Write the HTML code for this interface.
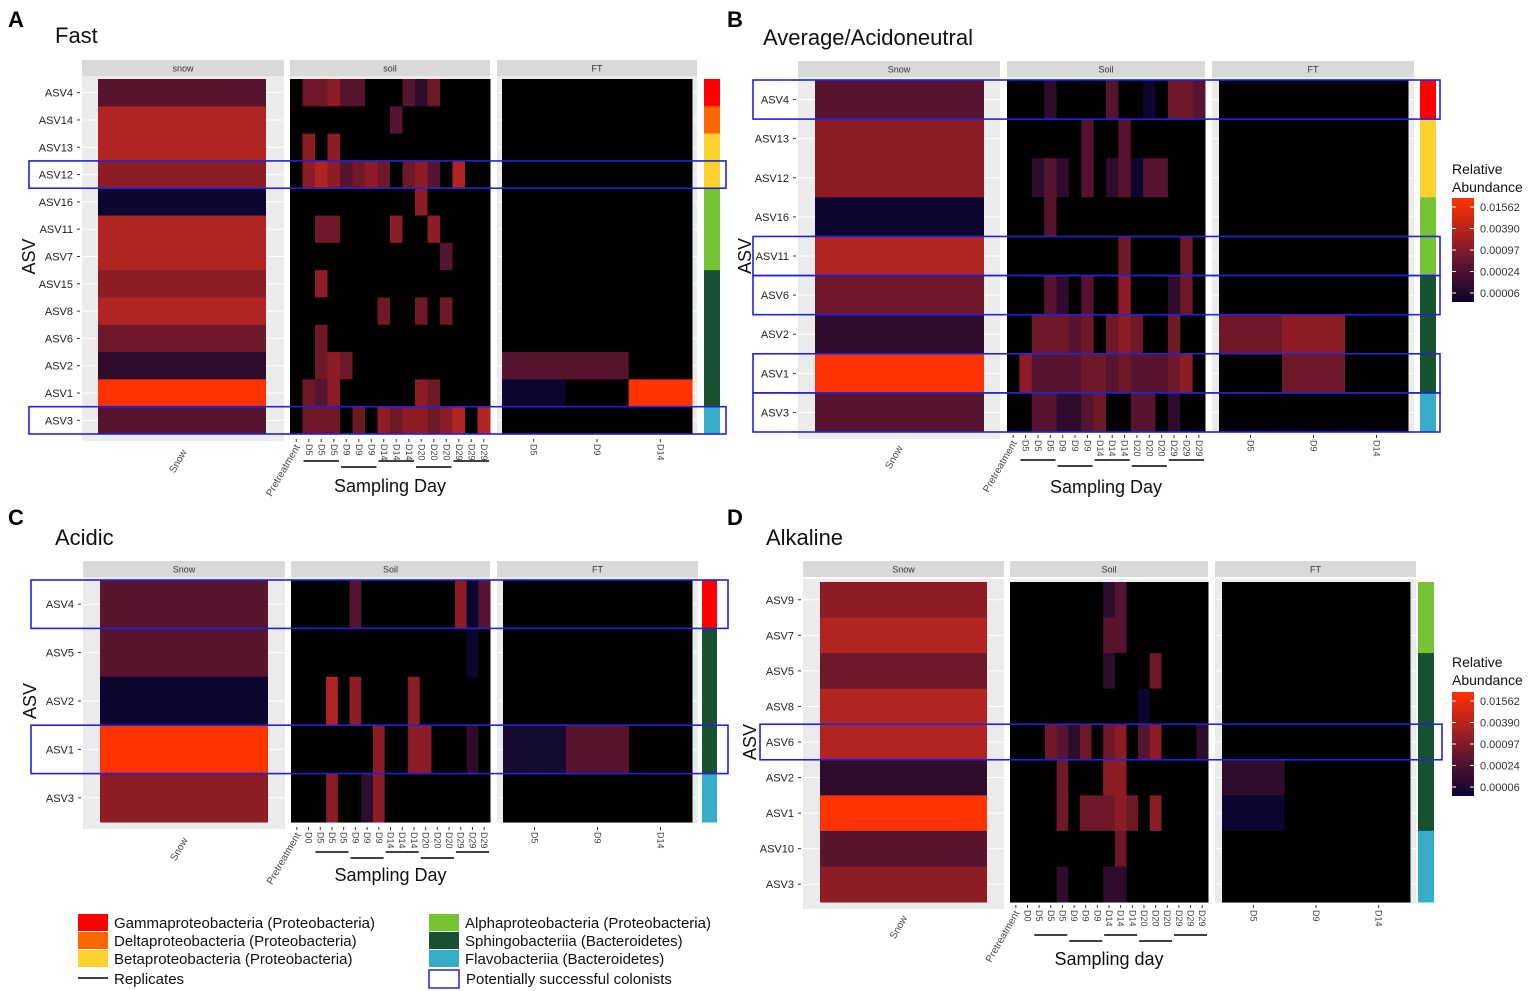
<!DOCTYPE html>
<html><head><meta charset="utf-8">
<style>
body{margin:0;background:#fff;}
svg{display:block;font-family:"Liberation Sans",sans-serif;}
</style></head>
<body>
<svg id="fig" width="1535" height="991" viewBox="0 0 1535 991" xmlns="http://www.w3.org/2000/svg"></svg>
<script>
// ---- data ----
const levelColors = ['#000000','#0c0530','#2e0c2c','#561430','#6e1828','#8e1c26','#b02422','#ff3300'];
const soilCols = ['Pretreatment','D5','D5','D5','D9','D9','D9','D14','D14','D14','D20','D20','D20','D29','D29','D29'];
const soilColsCD = ['Pretreatment','D0','D5','D5','D5','D9','D9','D9','D14','D14','D14','D20','D20','D20','D29','D29','D29'];
const ftCols = ['D5','D9','D14'];
const scaleTicks = ['0.01562','0.00390','0.00097','0.00024','0.00006'];
const classColors = {g:'#ff0000',d:'#ff6600',b:'#fdd22e',a:'#74c434',s:'#17512f',f:'#36acc9'};

const rowsA = ['ASV4','ASV14','ASV13','ASV12','ASV16','ASV11','ASV7','ASV15','ASV8','ASV6','ASV2','ASV1','ASV3'];
const snowA = [3,6,6,5,1,6,6,5,6,4,2,7,3];
const soilA = ['0445330003240000','0000000030000000','0505000000000000','0565345404530600','0000000000500000','0044000050050000','0000000000003000','0050000000000000','0000000400404000','0040000000000000','0045400000000000','0435000000540000','0444040545545606'];
const ftA = ['000','000','000','000','000','000','000','000','000','000','330','107','000'];
const classA = ['g','d','b','b','a','a','a','s','s','s','s','s','f'];
const boxA = ['ASV12','ASV3'];

const rowsB = ['ASV4','ASV13','ASV12','ASV16','ASV11','ASV6','ASV2','ASV1','ASV3'];
const snowB = [3,5,5,1,6,4,2,7,3];
const soilB = ['0002000030010443','0000003003000000','0023203023133000','0003000000000000','0000000004000040','0003203005000240','0044434045400400','0533334434333450','0033223400330200'];
const ftB = ['000','000','000','000','000','000','450','040','000'];
const classB = ['g','b','b','a','a','s','s','s','f'];
const boxB = ['ASV4','ASV11','ASV6','ASV1','ASV3'];

const rowsC = ['ASV4','ASV5','ASV2','ASV1','ASV3'];
const snowC = [3,3,1,7,5];
const soilC = ['00000300000000513','00000000000000010','00060500005000000','00000005005500020','00050025000000000'];
const ftC = ['000','000','000','130','000'];
const classC = ['g','s','s','s','f'];
const boxC = ['ASV4','ASV1'];

const rowsD = ['ASV9','ASV7','ASV5','ASV8','ASV6','ASV2','ASV1','ASV10','ASV3'];
const snowD = [5,6,4,6,6,2,7,3,5];
const soilD = ['00000000230000000','00000000330000000','00000000200040000','00000000000100000','00043240450350002','00004000550000000','00004044454050000','00000000040000000','00002000220000000'];
const ftD = ['000','000','000','000','000','200','100','000','000'];
const classD = ['a','a','s','s','s','s','s','f','f'];
const boxD = ['ASV6'];

// ---- layout ----
const NS='http://www.w3.org/2000/svg';
const svg=document.getElementById('fig');
function mk(tag,attrs,parent){const e=document.createElementNS(NS,tag);for(const k in attrs)e.setAttribute(k,attrs[k]);(parent||svg).appendChild(e);return e;}
function txt(s,attrs,parent){const e=mk('text',attrs,parent);e.textContent=s;return e;}

function drawPanel(p){
  const g=mk('g',{});
  
  
  const n=p.rows.length, rh=(p.y1-p.y0)/n;
  const yOf=i=>p.y0+i*rh;
  const L=txt(p.id,{x:p.lx,y:p.ly,'font-size':22,'font-weight':'bold',fill:'#000'},g);
  
  const T=txt(p.title,{x:p.tx,y:p.ty,'font-size':22,fill:'#111'},g);
  
  const facets=[['snow',p.snowBg,p.snowHeat,p.stripNames[0]],['soil',p.soilBg,p.soilBg,p.stripNames[1]],['ft',p.ftBg,p.ftHeat,p.stripNames[2]]];
  facets.forEach(f=>{
    const bg=mk('rect',{x:f[1][0],y:p.y0-3,width:f[1][1]-f[1][0],height:p.y1-p.y0+(f[0]==='snow'?10:4),fill:'#ebebeb'},g);
    
    for(let i=0;i<n;i++) mk('line',{x1:f[1][0],x2:f[1][1],y1:yOf(i)+rh/2,y2:yOf(i)+rh/2,stroke:'#fff','stroke-width':1},g);
    const st=mk('rect',{x:f[1][0],y:p.sy,width:f[1][1]-f[1][0],height:16,fill:'#d9d9d9'},g);
    
    txt(f[3],{x:(f[1][0]+f[1][1])/2,y:p.sy+11.5,'font-size':9,'text-anchor':'middle',fill:'#333'},g);
  });
  for(let i=0;i<n;i++){
    const r=mk('rect',{x:p.snowHeat[0],y:yOf(i),width:p.snowHeat[1]-p.snowHeat[0],height:rh+0.5,fill:levelColors[p.snow[i]]},g);
    
  }
  const sc=p.soil[0].length, cw=(p.soilBg[1]-p.soilBg[0])/sc;
  for(let i=0;i<n;i++)for(let j=0;j<sc;j++){
    const r=mk('rect',{x:p.soilBg[0]+j*cw,y:yOf(i),width:cw+0.5,height:rh+0.5,fill:levelColors[+p.soil[i][j]]},g);
    
  }
  const fw=(p.ftHeat[1]-p.ftHeat[0])/3;
  for(let i=0;i<n;i++)for(let j=0;j<3;j++){
    const v=+p.ft[i][j];
    const r=mk('rect',{x:p.ftHeat[0]+j*fw,y:yOf(i),width:fw+0.5,height:rh+0.5,fill:(p.id==='C'&&v===1)?'#160a30':levelColors[v]},g);
    
  }
  for(let i=0;i<n;i++){
    const r=mk('rect',{x:p.bar[0],y:yOf(i),width:p.bar[1]-p.bar[0],height:rh+0.5,fill:classColors[p.cls[i]]},g);
    
  }
  for(let i=0;i<n;i++){
    const t=txt(p.rows[i],{x:p.snowBg[0]-9,y:yOf(i)+rh/2+4,'font-size':11,'text-anchor':'end',fill:'#222'},g);
    
    mk('line',{x1:p.snowBg[0]-5,x2:p.snowBg[0]-2,y1:yOf(i)+rh/2,y2:yOf(i)+rh/2,stroke:'#333'},g);
  }
  const ya=txt('ASV',{x:0,y:0,'font-size':18,'text-anchor':'middle',fill:'#111',transform:`translate(${p.snowBg[0]-47},${(p.y0+p.y1)/2}) rotate(-90)`},g);
  
  const ty=p.y1+(p.id==='A'||p.id==='C'?10:8);
  const sx=(p.snowBg[0]+p.snowBg[1])/2;
  txt('Snow',{x:0,y:0,'font-size':10,'text-anchor':'end',fill:'#444',transform:`translate(${sx+4},${ty+8}) rotate(-60)`},g);
  for(let j=0;j<sc;j++){
    const cx=p.soilBg[0]+(j+0.5)*cw;
    mk('line',{x1:cx,x2:cx,y1:ty-5,y2:ty-2,stroke:'#333'},g);
    if(j===0) txt(p.cols[j],{x:0,y:0,'font-size':10,'text-anchor':'end',fill:'#444',transform:`translate(${cx+4},${ty+3}) rotate(-60)`},g);
    else txt(p.cols[j],{x:0,y:0,'font-size':9,fill:'#444',transform:`translate(${cx-3},${ty}) rotate(90)`},g);
  }
  for(let j=0;j<3;j++){
    const cx=p.ftHeat[0]+(j+0.5)*fw;
    mk('line',{x1:cx,x2:cx,y1:ty-5,y2:ty-2,stroke:'#333'},g);
    txt(ftCols[j],{x:0,y:0,'font-size':9,fill:'#444',transform:`translate(${cx-3},${ty}) rotate(90)`},g);
  }
  const first=sc-15;
  for(let k=0;k<5;k++){
    const a=p.soilBg[0]+(first+k*3)*cw+1, b=a+3*cw-2;
    const ly=p.repY+(k%2?6:0);
    const l=mk('line',{x1:a,x2:b,y1:ly,y2:ly,stroke:'#000','stroke-width':1.5},g);
    
  }
  const xt=txt(p.xtitle,{x:(p.soilBg[0]+p.soilBg[1])/2,y:p.xty,'font-size':18,'text-anchor':'middle',fill:'#111'},g);
  
  p.boxes.forEach(name=>{
    const i=p.rows.indexOf(name);
    const b=mk('rect',{x:p.boxX[0],y:yOf(i),width:p.boxX[1]-p.boxX[0],height:rh,fill:'none',stroke:'#2222dd','stroke-width':1.6},g);
    
  });
  if(p.scale){
    const s=p.scale;
    txt('Relative',{x:s.x,y:s.y,'font-size':14,fill:'#111'},g);
    txt('Abundance',{x:s.x,y:s.y+18,'font-size':14,fill:'#111'},g);
    const gid='grad'+p.id;
    const defs=mk('defs',{},g);
    const lg=mk('linearGradient',{id:gid,x1:0,y1:0,x2:0,y2:1},defs);
    [['0','#ff3300'],['0.35','#a82222'],['0.65','#5a1430'],['1','#0a0530']].forEach(o=>mk('stop',{offset:o[0],'stop-color':o[1]},lg));
    const cb=mk('rect',{x:s.x,y:s.cy,width:22,height:104,fill:`url(#${gid})`},g);
    
    scaleTicks.forEach((t,k)=>{
      const yy=s.cy+9+k*(86/4);
      mk('line',{x1:s.x,x2:s.x+4,y1:yy,y2:yy,stroke:'#fff'},g);
      mk('line',{x1:s.x+18,x2:s.x+22,y1:yy,y2:yy,stroke:'#fff'},g);
      txt(t,{x:s.x+28,y:yy+4,'font-size':11,fill:'#333'},g);
    });
  }
}

const panels=[
 {id:'A',title:'Fast',lx:8,ly:27,tx:55,ty:43,rows:rowsA,snow:snowA,soil:soilA,ft:ftA,cls:classA,boxes:boxA,cols:soilCols,
  stripNames:['snow','soil','FT'],sy:60,y0:79,y1:434,snowBg:[82,284],snowHeat:[98,266],soilBg:[290,490],ftBg:[497,697],ftHeat:[502,692],bar:[704,720],
  boxX:[29,726],repY:461,xtitle:'Sampling Day',xty:492},
 {id:'B',title:'Average/Acidoneutral',lx:727,ly:27,tx:763,ty:45,rows:rowsB,snow:snowB,soil:soilB,ft:ftB,cls:classB,boxes:boxB,cols:soilCols,
  stripNames:['Snow','Soil','FT'],sy:61,y0:80,y1:432,snowBg:[798,1000],snowHeat:[815,984],soilBg:[1007,1205],ftBg:[1212,1414],ftHeat:[1219,1408],bar:[1420,1436],
  boxX:[753,1440],repY:460,xtitle:'Sampling Day',xty:493,scale:{x:1452,y:174,cy:198}},
 {id:'C',title:'Acidic',lx:8,ly:525,tx:55,ty:545,rows:rowsC,snow:snowC,soil:soilC,ft:ftC,cls:classC,boxes:boxC,cols:soilColsCD,
  stripNames:['Snow','Soil','FT'],sy:561,y0:580,y1:822,snowBg:[83,285],snowHeat:[100,268],soilBg:[291,490],ftBg:[497,698],ftHeat:[503,692],bar:[702,717],
  boxX:[31,728],repY:852,xtitle:'Sampling Day',xty:881},
 {id:'D',title:'Alkaline',lx:727,ly:525,tx:766,ty:545,rows:rowsD,snow:snowD,soil:soilD,ft:ftD,cls:classD,boxes:boxD,cols:soilColsCD,
  stripNames:['Snow','Soil','FT'],sy:561,y0:582,y1:902,snowBg:[803,1004],snowHeat:[820,987],soilBg:[1010,1208],ftBg:[1215,1416],ftHeat:[1222,1410],bar:[1418,1434],
  boxX:[760,1442],repY:935,xtitle:'Sampling day',xty:965,scale:{x:1452,y:667,cy:692}}
];
panels.forEach(drawPanel);

const legendItems=[
 ['g','Gammaproteobacteria (Proteobacteria)',78,914],
 ['d','Deltaproteobacteria (Proteobacteria)',78,932],
 ['b','Betaproteobacteria (Proteobacteria)',78,950],
 ['a','Alphaproteobacteria (Proteobacteria)',429,914],
 ['s','Sphingobacteriia (Bacteroidetes)',429,932],
 ['f','Flavobacteriia (Bacteroidetes)',429,950]
];
legendItems.forEach(it=>{
  const r=mk('rect',{x:it[2],y:it[3],width:30,height:17,fill:classColors[it[0]]});
  
  
  const t=txt(it[1],{x:it[2]+36,y:it[3]+14,'font-size':15,fill:'#111'});
  
  
});
mk('line',{x1:78,x2:108,y1:978,y2:978,stroke:'#000','stroke-width':1.5});
const rt=txt('Replicates',{x:114,y:984,'font-size':15,fill:'#111'});


mk('rect',{x:429,y:970,width:30,height:18,fill:'none',stroke:'#2222dd','stroke-width':1.5});
const pt=txt('Potentially successful colonists',{x:466,y:984,'font-size':15,fill:'#111'});


</script>
</body></html>
